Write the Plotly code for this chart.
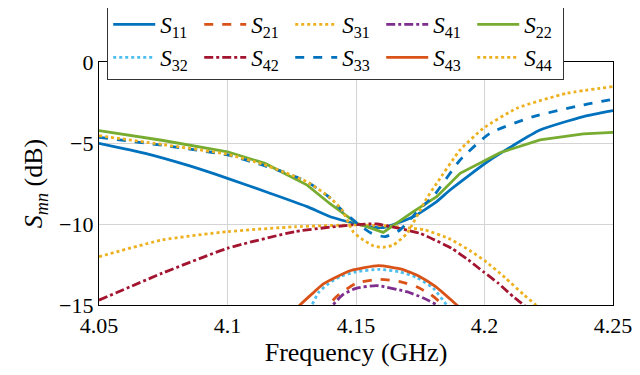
import plotly.graph_objects as go

# Frequency (GHz) / S-parameter (dB)
f11 = [4.05, 4.068, 4.085, 4.1, 4.116, 4.131, 4.14, 4.153, 4.1606, 4.1723, 4.1814, 4.1866, 4.2021, 4.2216, 4.2385, 4.25]
s11 = [-5.02, -5.64, -6.4, -7.18, -8.07, -8.93, -9.55, -10.1, -10.22, -9.55, -8.62, -7.9, -6.05, -4.2, -3.37, -3.0]

f21 = [4.136, 4.1392, 4.143, 4.15, 4.1587, 4.167, 4.1736, 4.179, 4.184, 4.187]
s21 = [-15.5, -15.0, -14.4, -13.66, -13.41, -13.55, -13.87, -14.35, -15.0, -15.5]

f31 = [4.05, 4.0744, 4.1, 4.1263, 4.1483, 4.16, 4.1768, 4.1866, 4.195, 4.2002, 4.208, 4.2151, 4.22, 4.225]
s31 = [-12.02, -10.99, -10.47, -10.17, -10.06, -10.1, -10.37, -10.93, -11.71, -12.28, -13.31, -14.34, -15.0, -15.7]

f41 = [4.138, 4.141, 4.145, 4.15, 4.158, 4.1697, 4.176, 4.1814, 4.184]
s41 = [-15.5, -15.0, -14.35, -13.97, -13.8, -14.18, -14.55, -15.0, -15.4]

f22 = [4.05, 4.0744, 4.1, 4.1146, 4.131, 4.1399, 4.1503, 4.1606, 4.1723, 4.1814, 4.1905, 4.206, 4.2216, 4.2385, 4.25]
s22 = [-4.24, -4.83, -5.54, -6.26, -7.6, -8.75, -9.96, -10.52, -9.24, -8.31, -6.87, -5.6, -4.81, -4.44, -4.34]

f32 = [4.13, 4.1328, 4.1354, 4.1395, 4.1438, 4.15, 4.1587, 4.167, 4.1736, 4.18, 4.1853, 4.188]
s32 = [-15.5, -15.0, -14.23, -13.66, -13.25, -12.95, -12.8, -12.95, -13.3, -13.95, -15.0, -15.5]

f42 = [4.05, 4.0744, 4.1, 4.1263, 4.1483, 4.158, 4.1749, 4.1807, 4.1872, 4.1937, 4.1995, 4.2054, 4.2112, 4.2145, 4.22]
s42 = [-14.7, -13.05, -11.5, -10.47, -10.06, -10.0, -10.58, -10.99, -11.5, -12.22, -12.94, -13.66, -14.49, -14.9, -15.6]

f33 = [4.05, 4.075, 4.1, 4.1135, 4.122, 4.131, 4.1393, 4.1451, 4.1516, 4.1561, 4.1613, 4.1671, 4.175, 4.18, 4.1905, 4.2021, 4.219, 4.2385, 4.25]
s33 = [-4.65, -5.15, -5.74, -6.36, -6.8, -7.39, -8.31, -9.24, -10.1, -10.58, -10.78, -10.37, -9.03, -8.31, -6.05, -4.4, -3.37, -2.65, -2.3]

f43 = [4.125, 4.1282, 4.133, 4.1373, 4.142, 4.148, 4.1587, 4.168, 4.1749, 4.181, 4.1892, 4.192]
s43 = [-15.5, -15.0, -14.3, -13.7, -13.3, -12.87, -12.57, -12.8, -13.25, -13.87, -15.0, -15.4]

f44 = [4.05, 4.075, 4.1, 4.1135, 4.122, 4.131, 4.1393, 4.1444, 4.149, 4.1529, 4.1568, 4.1606, 4.1645, 4.1697, 4.1775, 4.1814, 4.1905, 4.1995, 4.2125, 4.232, 4.25]
s44 = [-4.55, -5.1, -5.7, -6.3, -6.8, -7.4, -8.3, -9.1, -10.5, -10.99, -11.35, -11.44, -11.3, -10.6, -8.42, -7.49, -5.43, -4.1, -2.86, -1.93, -1.52]

x_ticks = [4.05, 4.1, 4.15, 4.2, 4.25]
x_labels = ["4.05", "4.1", "4.15", "4.2", "4.25"]
y_ticks = [-15, -10, -5, 0]

traces = [
    ("11", f11, s11, "#0072BD", "solid", "spline"),
    ("21", f21, s21, "#D95319", "dash", "spline"),
    ("31", f31, s31, "#EDB120", "dot", "spline"),
    ("41", f41, s41, "#7E2F8E", "dashdot", "spline"),
    ("22", f22, s22, "#77AC30", "solid", "linear"),
    ("32", f32, s32, "#4DBEEE", "dot", "spline"),
    ("42", f42, s42, "#A2142F", "dashdot", "spline"),
    ("33", f33, s33, "#0072BD", "dash", "spline"),
    ("43", f43, s43, "#D95319", "solid", "spline"),
    ("44", f44, s44, "#EDB120", "dot", "spline"),
]

fig = go.Figure()
for idx, x, y, col, dash, shape in traces:
    line = dict(color=col, width=2.8, dash=dash, shape=shape)
    if shape == "spline":
        line["smoothing"] = 0.5
    fig.add_trace(go.Scatter(x=x, y=y, mode="lines",
                             name=f"<i>S</i><sub>{idx}</sub>", line=line))

# page body has an 8px margin, so the figure is shrunk by 8px and margins shifted
fig.update_layout(
    width=632, height=367,
    margin=dict(l=91, r=27, t=54, b=70, autoexpand=False),
    paper_bgcolor="white", plot_bgcolor="white",
    font=dict(family="Liberation Serif", size=22, color="black"),
    legend=dict(
        orientation="h", x=0.016, xanchor="left", y=1.247, yanchor="top",
        bgcolor="white", bordercolor="#333", borderwidth=1,
        font=dict(size=23), entrywidth=34, itemwidth=42, tracegroupgap=0,
    ),
)
fig.update_xaxes(
    range=[4.05, 4.25], tickvals=x_ticks, ticktext=x_labels,
    showline=True, mirror=True, linecolor="black", linewidth=1.2,
    showgrid=True, gridcolor="#d4d4d4", gridwidth=1, zeroline=False,
    ticks="", title=dict(text="Frequency (GHz)", standoff=6),
)
fig.update_yaxes(
    range=[-15, 0], tickvals=y_ticks,
    showline=True, mirror=True, linecolor="black", linewidth=1.2,
    showgrid=True, gridcolor="#d4d4d4", gridwidth=1, zeroline=False,
    ticks="", title=dict(text="<i>S</i><sub><i>mn</i></sub> (dB)", standoff=8),
)

fig.write_html("out.html")
